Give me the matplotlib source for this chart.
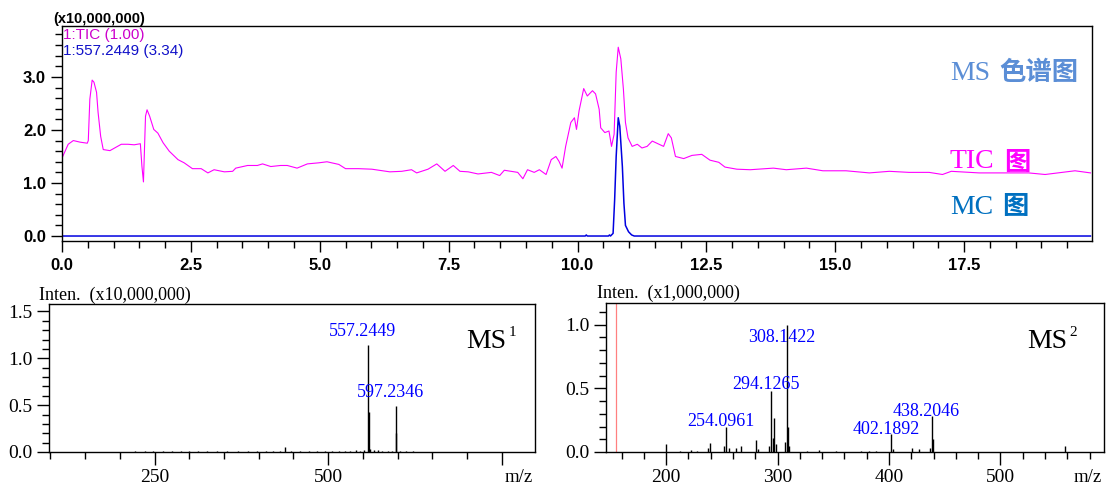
import matplotlib
matplotlib.use('Agg')
import matplotlib.pyplot as plt
from matplotlib.ticker import MultipleLocator, FormatStrFormatter

# TIC trace, time in min, intensity in x10,000,000
tic_t = [0.00, 0.12, 0.22, 0.35, 0.49, 0.51, 0.54, 0.585, 0.62, 0.67, 0.70, 0.75, 0.80, 0.93,
         1.02, 1.15, 1.28, 1.40, 1.52, 1.55, 1.58, 1.62, 1.65, 1.70, 1.78, 1.86, 1.96, 2.08,
         2.25, 2.37, 2.53, 2.70, 2.83, 2.95, 3.15, 3.31, 3.37, 3.60, 3.79, 3.89, 4.05, 4.24,
         4.37, 4.56, 4.76, 4.98, 5.14, 5.37, 5.50, 5.75, 6.01, 6.36, 6.59, 6.78, 6.88, 7.10,
         7.27, 7.43, 7.59, 7.72, 7.88, 8.07, 8.33, 8.49, 8.58, 8.84, 8.94, 9.03, 9.16, 9.26,
         9.39, 9.49, 9.58, 9.64, 9.70, 9.77, 9.87, 9.94, 9.98, 10.03, 10.12, 10.19, 10.29,
         10.35, 10.42, 10.45, 10.53, 10.61, 10.66, 10.71, 10.75, 10.79, 10.84, 10.89, 10.93,
         10.98, 11.06, 11.16, 11.25, 11.35, 11.45, 11.58, 11.67, 11.76, 11.82, 11.90, 12.06,
         12.22, 12.41, 12.57, 12.74, 12.86, 13.09, 13.35, 13.80, 14.05, 14.44, 14.76, 15.21,
         15.66, 16.05, 16.43, 16.82, 17.08, 17.25, 17.79, 18.11, 18.75, 19.07, 19.40, 19.65,
         19.95]
tic_v = [1.47, 1.73, 1.80, 1.77, 1.75, 1.80, 2.58, 2.94, 2.90, 2.71, 2.33, 1.88, 1.63, 1.61,
         1.66, 1.73, 1.73, 1.72, 1.74, 1.32, 1.02, 2.26, 2.38, 2.26, 2.01, 1.94, 1.76, 1.60,
         1.44, 1.38, 1.27, 1.27, 1.19, 1.25, 1.21, 1.22, 1.28, 1.33, 1.33, 1.36, 1.31, 1.33,
         1.33, 1.28, 1.36, 1.38, 1.40, 1.35, 1.27, 1.27, 1.26, 1.21, 1.22, 1.25, 1.19, 1.26,
         1.36, 1.22, 1.33, 1.22, 1.21, 1.17, 1.20, 1.14, 1.24, 1.20, 1.08, 1.25, 1.20, 1.25,
         1.16, 1.44, 1.50, 1.41, 1.28, 1.69, 2.14, 2.23, 2.01, 2.36, 2.78, 2.64, 2.74,
         2.68, 2.39, 2.04, 1.95, 1.98, 1.69, 1.92, 3.09, 3.56, 3.34, 2.77, 2.14,
         1.85, 1.69, 1.73, 1.66, 1.69, 1.79, 1.73, 1.69, 1.93, 1.85, 1.50, 1.46,
         1.52, 1.54, 1.43, 1.39, 1.30, 1.26, 1.25, 1.28, 1.25, 1.28, 1.23, 1.23,
         1.19, 1.22, 1.20, 1.20, 1.16, 1.22, 1.19, 1.19, 1.19, 1.16, 1.20, 1.23,
         1.19]

# mass chromatogram of 557.2449 (x3.34)
mc_t = [0.0, 10.15, 10.17, 10.19, 10.60, 10.62, 10.64, 10.69, 10.72, 10.75, 10.79, 10.82,
        10.87, 10.90, 10.93, 10.99, 11.05, 11.10, 19.95]
mc_v = [0.0, 0.0, 0.02, 0.0, 0.0, 0.02, 0.0, 0.05, 0.68, 1.50, 2.23, 2.07,
        1.31, 0.62, 0.20, 0.08, 0.02, 0.0, 0.0]

# MS1 spectrum, intensity x10,000,000
ms1_mz = [557.2449, 558.25, 597.2346, 598.24, 437.8,
          222, 236, 248, 262, 275, 288, 300, 312, 326, 340, 355, 370, 384, 398, 410, 420,
          430, 446, 460, 472, 484, 495, 505, 515, 524, 532, 540, 546, 552, 561, 566, 572,
          578, 586, 592, 603, 612, 622, 636]
ms1_int = [1.14, 0.43, 0.49, 0.20, 0.05,
           0.008, 0.006, 0.010, 0.007, 0.012, 0.008, 0.010, 0.014, 0.008, 0.006, 0.010,
           0.008, 0.012, 0.009, 0.012, 0.010, 0.015, 0.008, 0.010, 0.012, 0.008, 0.010,
           0.014, 0.012, 0.016, 0.014, 0.018, 0.015, 0.020, 0.030, 0.025, 0.020, 0.015,
           0.010, 0.008, 0.010, 0.008, 0.006, 0.005]
ms1_labels = ['557.2449', '597.2346']

# MS2 spectrum, intensity x1,000,000
ms2_mz = [200.1, 212, 222, 228, 237.5, 239.2, 251.6, 254.0961, 256.0, 262.5, 267.0, 281.0,
          282.5, 292.0, 294.1265, 295.5, 296.6, 298.2, 307.1, 308.1422, 309.2, 310.1, 326,
          337, 352, 375, 382, 388, 402.1892, 404, 420.5, 426.5, 436.5, 438.2046, 439.5, 558.3]
ms2_int = [0.065, 0.01, 0.012, 0.01, 0.03, 0.07, 0.05, 0.20, 0.03, 0.03, 0.045, 0.096,
           0.02, 0.045, 0.48, 0.11, 0.27, 0.06, 0.08, 0.995, 0.20, 0.05, 0.01,
           0.012, 0.01, 0.008, 0.01, 0.008, 0.14, 0.02, 0.03, 0.026, 0.03, 0.28, 0.10, 0.045]
ms2_labels = ['254.0961', '294.1265', '308.1422', '402.1892', '438.2046']
ms2_label_off = [(-5, 5), (-5, 6), (-5, -12), (-5, 5), (-5, 5)]
precursor = 155.3

W, H = 1106, 484
fig = plt.figure(figsize=(W / 100, H / 100), dpi=100)


def box(l, t, r, b):
    return [l / W, 1 - b / H, (r - l) / W, (b - t) / H]


def fx(px):
    return px / W


def fy(py):
    return 1 - py / H


serif = 'Liberation Serif'
sans = 'Liberation Sans'
cjk = 'Noto Sans CJK SC'

# ---- chromatogram ----
ax = fig.add_axes(box(62, 26, 1092, 241))
ax.plot(tic_t, tic_v, color='#ff00ff', lw=0.8)
ax.plot(mc_t, mc_v, color='#0000e0', lw=1.1)
ax.set_xlim(0, 19.98)
ax.set_ylim(-0.094, 3.96)
ax.xaxis.set_major_locator(MultipleLocator(2.5))
ax.xaxis.set_minor_locator(MultipleLocator(0.5))
ax.yaxis.set_major_locator(MultipleLocator(1.0))
ax.yaxis.set_minor_locator(MultipleLocator(0.2))
ax.xaxis.set_major_formatter(FormatStrFormatter('%.1f'))
ax.yaxis.set_major_formatter(FormatStrFormatter('%.1f'))
ax.tick_params(which='both', direction='out', width=1)
ax.tick_params(which='major', length=8)
ax.tick_params(which='minor', length=5)
ax.tick_params(axis='x', pad=4)
for lab in ax.get_xticklabels() + ax.get_yticklabels():
    lab.set_fontfamily(sans)
    lab.set_fontweight('bold')
    lab.set_fontsize(12)
for sp in ax.spines.values():
    sp.set_linewidth(1)

fig.text(fx(53), fy(19), '(x10,000,000)', family=sans, weight='bold', size=10.5,
         va='center', ha='left')
fig.text(fx(63), fy(35), '1:TIC (1.00)', family=sans, size=11, color='#cc00cc',
         va='center', ha='left')
fig.text(fx(63), fy(51), '1:557.2449 (3.34)', family=sans, size=11, color='#1010c8',
         va='center', ha='left')

for y, a, b, col in [(73, 'MS', '色谱图', '#5b8ed6'), (162, 'TIC', '图', '#ff00ff'),
                     (207, 'MC', '图', '#0070c0')]:
    t1 = fig.text(fx(950), fy(y), a, family=serif, size=20, color=col, va='center')
    fig.canvas.draw()
    bb = t1.get_window_extent()
    fig.text(bb.x1 / W + fx(9), fy(y), b, family=cjk, weight='bold', size=19, color=col,
             va='center')

# ---- MS1 ----
ax1 = fig.add_axes(box(49, 304, 535, 452))
ax1.vlines(ms1_mz, 0, ms1_int, color='black', lw=1)
ax1.set_xlim(98, 798)
ax1.set_ylim(0, 1.58)
ax1.xaxis.set_major_locator(MultipleLocator(250))
ax1.xaxis.set_minor_locator(MultipleLocator(50))
ax1.yaxis.set_major_locator(MultipleLocator(0.5))
ax1.yaxis.set_minor_locator(MultipleLocator(0.1))
ax1.set_xticks([250, 500, 750])
ax1.set_xticklabels(['250', '500', ''])
for i, lab in enumerate(ms1_labels):
    k = ms1_mz.index(float(lab))
    ax1.annotate(lab, (ms1_mz[k], ms1_int[k]), xytext=(-3.6, 4),
                 textcoords='offset points', ha='center', va='bottom', family=serif,
                 size=13, color='#0000ff')
fig.text(fx(466), fy(342), 'MS', family=serif, size=20, va='center')
fig.text(fx(509), fy(333), '1', family=serif, size=11, va='center')
fig.text(fx(533), fy(477), 'm/z', family=serif, size=13.5, va='center', ha='right')
fig.text(fx(39), fy(295), 'Inten.  (x10,000,000)', family=serif, size=13, va='center')

# ---- MS2 ----
ax2 = fig.add_axes(box(606, 303, 1104, 452))
ax2.axvline(precursor, color='#ff8080', lw=0.9)
ax2.vlines(ms2_mz, 0, ms2_int, color='black', lw=1)
ax2.set_xlim(146, 593)
ax2.set_ylim(0, 1.17)
ax2.xaxis.set_major_locator(MultipleLocator(100))
ax2.xaxis.set_minor_locator(MultipleLocator(20))
ax2.yaxis.set_major_locator(MultipleLocator(0.5))
ax2.yaxis.set_minor_locator(MultipleLocator(0.1))
for lab, (dx, dy) in zip(ms2_labels, ms2_label_off):
    i = ms2_mz.index(float(lab))
    ax2.annotate(lab, (ms2_mz[i], ms2_int[i]), xytext=(dx * 0.72, dy * 0.72),
                 textcoords='offset points', ha='center', va='center', family=serif,
                 size=13, color='#0000ff')
fig.text(fx(1027), fy(342), 'MS', family=serif, size=20, va='center')
fig.text(fx(1069), fy(333), '2', family=serif, size=11, va='center')
fig.text(fx(1102), fy(477), 'm/z', family=serif, size=13.5, va='center', ha='right')
fig.text(fx(597), fy(293), 'Inten.  (x1,000,000)', family=serif, size=13, va='center')

for a in (ax1, ax2):
    a.yaxis.set_major_formatter(FormatStrFormatter('%.1f'))
    a.tick_params(which='both', direction='out', width=1)
    a.tick_params(which='major', length=9, pad=3)
    a.tick_params(which='minor', length=5)
    for lab in a.get_xticklabels() + a.get_yticklabels():
        lab.set_fontfamily(serif)
        lab.set_fontsize(14)
    for sp in a.spines.values():
        sp.set_linewidth(1)

fig.savefig('out.png', dpi=100)
